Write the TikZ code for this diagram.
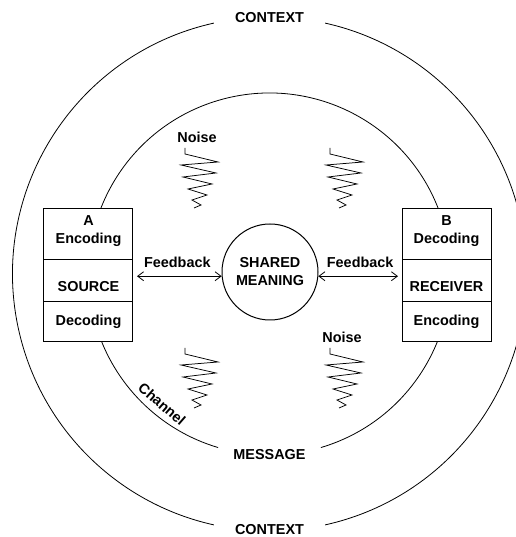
\documentclass[tikz,border=0pt]{standalone}
\usepackage{fontspec}
\setmainfont{Liberation Sans}
\usetikzlibrary{positioning,arrows.meta}

\begin{document}
\begin{tikzpicture}[
  x=1pt, y=1pt,
  font=\fontsize{14.4}{18}\selectfont\bfseries,
  >={Straight Barb[length=6pt,width=9pt]},
  ring/.style={line width=0.8pt},
  part/.style={draw, line width=1pt, fill=white, minimum width=89pt, inner sep=0pt, outer sep=0pt, align=center},
  lowered/.style={text height=21pt},
  feed/.style={<->, line width=0.8pt, shorten >=4pt},
  noisecoil/.pic={\draw[line width=0.75pt] (0,0) -- (0,-6) -- (33,-14) -- (-4,-17) -- (31,-25) -- (-2,-29)
     -- (27,-36) -- (3,-41) -- (22,-47) -- (7,-52) -- (16,-57) -- (9,-60);},
]
\useasboundingbox (-269.5,-263) rectangle (245.5,274);

% ---- context ----
\draw[ring] (102.5:257) arc[start angle=102.5, end angle=257.5, radius=257];
\draw[ring] (-77.5:257) arc[start angle=-77.5, end angle=77.5, radius=257];
\node (CT) at (0,256) {CONTEXT};
\node (CB) at (0,-255.5) {CONTEXT};

% ---- channel / message ----
\draw[ring] (-73.5:181) arc[start angle=-73.5, end angle=253.5, radius=181];
\node (MSG) at (0,-181) {MESSAGE};
\node[rotate=-41, inner sep=0pt] (CH) at (-107.5,-130) {Channel};

% ---- source (left) ----
\node[part, lowered, minimum height=51pt, anchor=north west] (SA) at (-225.5,65) {A\\Encoding};
\node[part, lowered, minimum height=42pt, below=0pt of SA] (SS) {SOURCE};
\node[part, minimum height=40pt, below=0pt of SS] (SD) {Decoding};

% ---- receiver (right) ----
\node[part, lowered, minimum height=51pt, anchor=north west] (RB) at (132.5,65) {B\\Decoding};
\node[part, lowered, minimum height=42pt, below=0pt of RB] (RR) {RECEIVER};
\node[part, minimum height=40pt, below=0pt of RR] (RE) {Encoding};

% ---- shared meaning ----
\node[draw, circle, line width=1pt, minimum size=96pt, inner sep=0pt, align=center] (SHM) at (0.5,2) {SHARED\\MEANING};

% ---- feedback ----
\draw[feed] (SHM.185) -- (SHM.185 -| SS.east) node[midway, above=5pt] (FL) {Feedback};
\draw[feed] (SHM.-5) -- (SHM.-5 -| RR.west) node[midway, above=5pt] (FR) {Feedback};

% ---- noise ----
\pic at (-84.5,126) {noisecoil};
\pic at (60.5,126) {noisecoil};
\pic at (-84.5,-74) {noisecoil};
\pic at (60.5,-74) {noisecoil};
\node (N1) at (-72.5,137) {Noise};
\node (N2) at (72.5,-63) {Noise};

\end{tikzpicture}
\end{document}
